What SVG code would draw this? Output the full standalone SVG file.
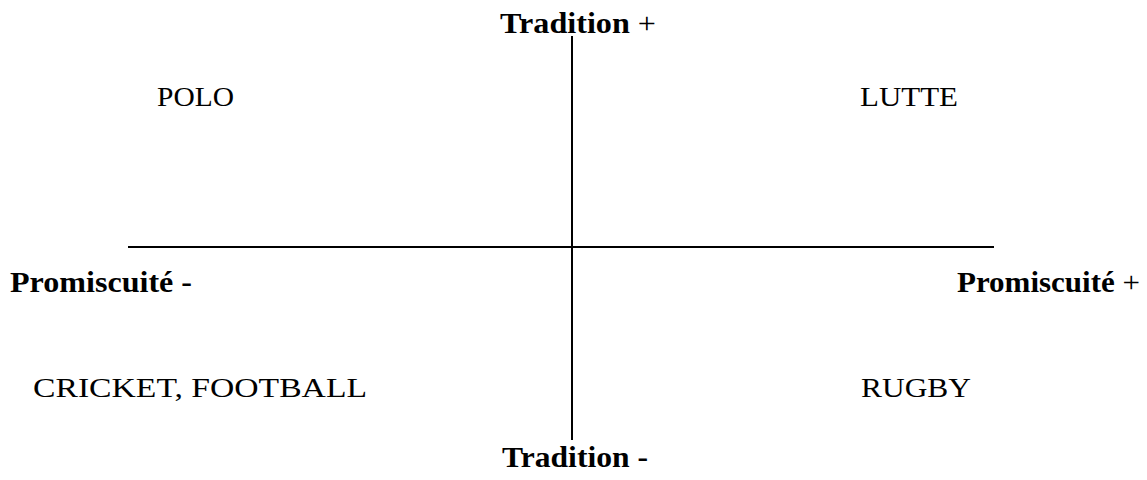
<svg xmlns="http://www.w3.org/2000/svg" width="1147" height="480" viewBox="0 0 1147 480">
<style>
text{font-family:"Liberation Serif","Times New Roman",serif;font-size:28px;fill:#000}
.h{font-size:30px}
.b{font-weight:bold}
line{stroke:#000;stroke-width:2}
</style>
<rect width="1147" height="480" fill="#fff"/>
<g id="axes">
<line x1="572" y1="36" x2="572" y2="440"/>
<line x1="128" y1="247" x2="994" y2="247"/>
</g>
<g id="axis-top"><text class="h" x="500" y="33" textLength="156" lengthAdjust="spacingAndGlyphs"><tspan class="b">Tradition</tspan> +</text></g>
<g id="axis-bottom"><text class="h b" x="502" y="467" textLength="146" lengthAdjust="spacingAndGlyphs">Tradition -</text></g>
<g id="axis-left"><text class="h b" x="10" y="292" textLength="182" lengthAdjust="spacingAndGlyphs">Promiscuité -</text></g>
<g id="axis-right"><text class="h" x="957" y="292" textLength="183" lengthAdjust="spacingAndGlyphs"><tspan class="b">Promiscuité</tspan> +</text></g>
<g id="polo"><text x="157" y="106" textLength="77" lengthAdjust="spacingAndGlyphs">POLO</text></g>
<g id="lutte"><text x="860" y="106" textLength="98" lengthAdjust="spacingAndGlyphs">LUTTE</text></g>
<g id="cricket"><text x="33" y="397" textLength="334" lengthAdjust="spacingAndGlyphs">CRICKET, FOOTBALL</text></g>
<g id="rugby"><text x="861" y="397" textLength="110" lengthAdjust="spacingAndGlyphs">RUGBY</text></g>
</svg>
